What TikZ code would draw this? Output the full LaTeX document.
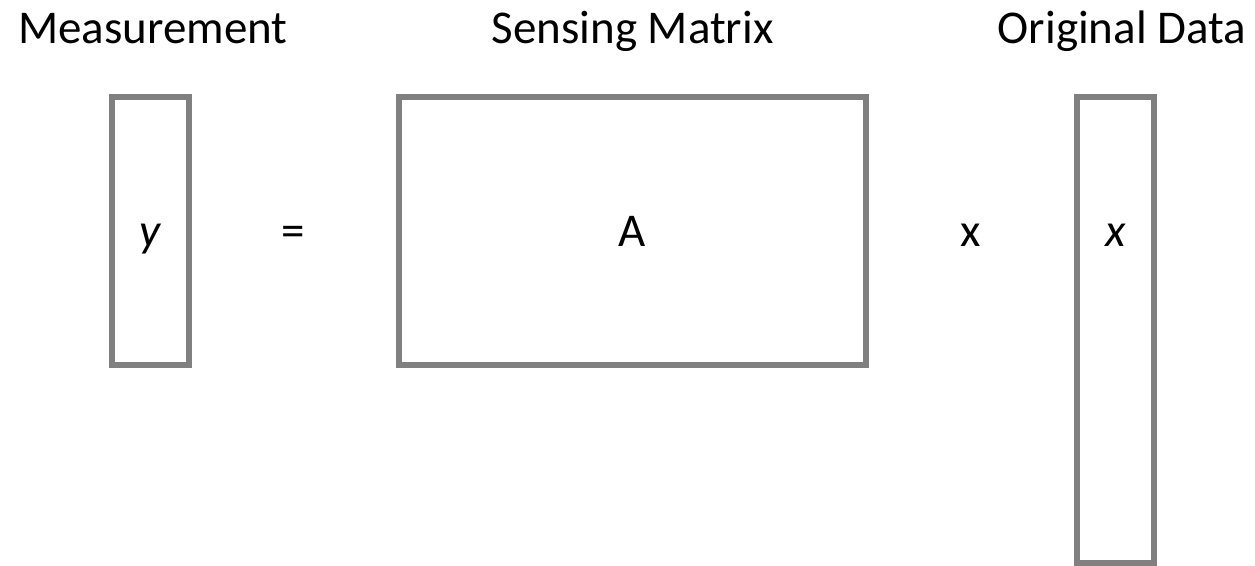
\documentclass[tikz,border=0pt]{standalone}
\usepackage{fontspec}
\setmainfont{Carlito}
\definecolor{boxgray}{RGB}{128,128,128}
\begin{document}
\begin{tikzpicture}[x=1pt,y=-1pt,
  matbox/.style={draw=boxgray, line width=6pt, rectangle, inner sep=0pt, outer sep=0pt},
  lbl/.style={font=\fontsize{47}{56}\selectfont, text=black, inner sep=0pt, anchor=base}]
\useasboundingbox (0,0) rectangle (1255,565);
\fill[white] (0,0) rectangle (1255,565);
% titles
\node[lbl] (tmeas) at (153,43) {Measurement};
\node[lbl] (tsens) at (632.5,43) {Sensing Matrix};
\node[lbl] (torig) at (1122,43) {Original Data};
% boxes
\node[matbox, minimum width=77pt, minimum height=268pt] (ybox) at (150.5,231) {};
\node[matbox, minimum width=467pt, minimum height=268pt] (abox) at (632.5,231) {};
\node[matbox, minimum width=77pt, minimum height=466pt] (xbox) at (1115.5,330) {};
% symbols
\node[lbl] (ysym) at (ybox.center |- 0,246) {\textit{y}};
\node[lbl] (eq) at (293,246) {=};
\node[lbl] (asym) at (abox.center |- 0,246) {A};
\node[lbl] (times) at (971,246) {x};
\node[lbl] (xsym) at (xbox.center |- 0,246) {\textit{x}};
\end{tikzpicture}
\end{document}
